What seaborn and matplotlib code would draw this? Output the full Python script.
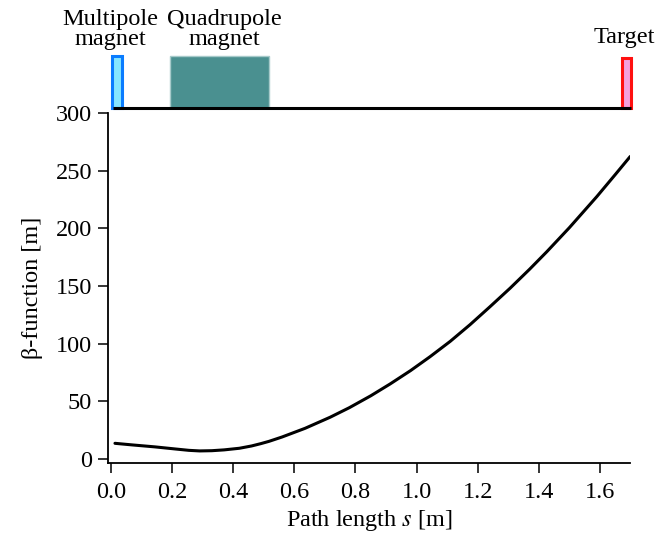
import matplotlib
matplotlib.use("Agg")
import matplotlib.pyplot as plt
from matplotlib.patches import Rectangle
import numpy as np
import pandas as pd
import seaborn as sns

# Beta function along the beamline
path_s = [0.013, 0.07, 0.144, 0.21, 0.255, 0.29, 0.33, 0.37, 0.42, 0.46,
          0.49, 0.517, 0.56, 0.635, 0.717, 0.78, 0.85, 0.913, 0.98, 1.044,
          1.11, 1.175, 1.24, 1.306, 1.37, 1.426, 1.5, 1.59, 1.65, 1.699]
beta_m = [13.6, 12.2, 10.5, 8.7, 7.5, 7.0, 7.2, 7.9, 9.3, 11.3,
          13.3, 15.3, 19.1, 26.6, 36.2, 44.5, 54.8, 65.0, 76.6, 88.7,
          102.0, 116.5, 132.0, 148.1, 164.6, 179.7, 200.6, 227.6, 246.6, 262.3]

# Beamline elements (start / end position in metres)
element_names = ["Multipole\nmagnet", "Quadrupole\nmagnet", "Target"]
element_start = [0.003, 0.193, 1.673]
element_end = [0.036, 0.517, 1.700]
beamline_span = [0.007, 1.700]

x_ticks = [0.0, 0.2, 0.4, 0.6, 0.8, 1.0, 1.2, 1.4, 1.6]
x_ticklabels = ["0.0", "0.2", "0.4", "0.6", "0.8", "1.0", "1.2", "1.4", "1.6"]
y_ticks = [0, 50, 100, 150, 200, 250, 300]

df = pd.DataFrame({"s": path_s, "beta": beta_m})

sns.set_theme(style="ticks")
plt.rcParams["font.family"] = ["Liberation Serif", "DejaVu Serif"]
plt.rcParams["mathtext.fontset"] = "stix"
plt.rcParams["text.color"] = "black"
plt.rcParams["axes.labelcolor"] = "black"

W, H = 669, 535
fig = plt.figure(figsize=(W / 100, H / 100), dpi=100)

xlim = (-0.0098, 1.6983)
fs = 17.5

# main beta-function panel
ax = fig.add_axes([108 / W, 72 / H, 522 / W, 350 / H])
sns.lineplot(data=df, x="s", y="beta", ax=ax, color="black", linewidth=2.2,
             sort=False, estimator=None)
ax.set_xlim(*xlim)
ax.set_ylim(-3.47, 300)
ax.set_xticks(x_ticks)
ax.set_xticklabels(x_ticklabels)
ax.set_yticks(y_ticks)
for side in ("top", "right"):
    ax.spines[side].set_visible(False)
for side in ("left", "bottom"):
    ax.spines[side].set_linewidth(1.3)
    ax.spines[side].set_color("black")
ax.tick_params(direction="out", length=7.5, width=1.1, colors="black",
               labelsize=fs)
ax.tick_params(axis="x", pad=6)
ax.tick_params(axis="y", pad=4)
ax.set_xlabel(r"Path length $\mathit{s}$ [m]", fontsize=fs, labelpad=4,
              color="black")
ax.set_ylabel("β-function [m]", fontsize=fs, labelpad=9, color="black")

# beamline schematic above the panel
axt = fig.add_axes([108 / W, (H - 112) / H, 522 / W, 62 / H])
axt.set_xlim(*xlim)
axt.set_ylim(-4 / 52, 58 / 52)
axt.axis("off")

faces = ["#86E6FF", "#4A9090", "#F4A0DC"]
edges = ["#0A7CFF", "#A6CACA", "#FF1010"]
widths = [2.2, 1.0, 2.2]
tops = [1.0, 1.0, 0.962]
for x0, x1, fc, ec, lw, top in zip(element_start, element_end, faces, edges,
                                   widths, tops):
    axt.add_patch(Rectangle((x0, 0), x1 - x0, top, facecolor=fc,
                            edgecolor=ec, linewidth=lw, clip_on=False,
                            zorder=2))
axt.plot(beamline_span, [0, 0], color="black", linewidth=2.2,
         solid_capstyle="butt", clip_on=False, zorder=3)

label_x = [-0.003, 0.37, 1.68]
label_y = [1.12, 1.12, 1.15]
for name, lx, ly in zip(element_names, label_x, label_y):
    axt.text(lx, ly, name, ha="center", va="bottom", fontsize=fs,
             linespacing=0.92, color="black", clip_on=False)

fig.savefig("out.png", dpi=100)
